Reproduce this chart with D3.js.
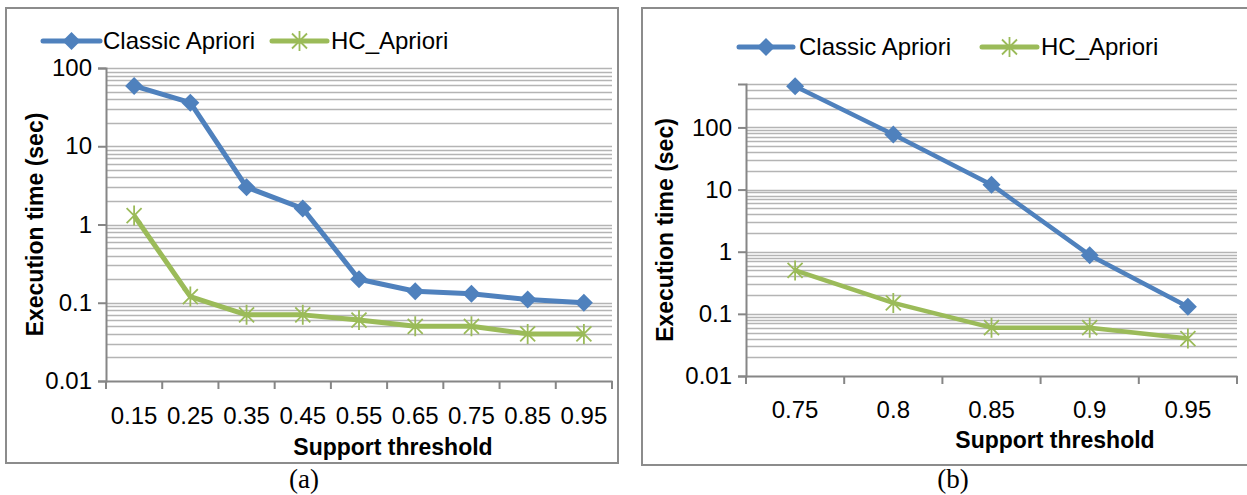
<!DOCTYPE html>
<html><head><meta charset="utf-8">
<script src="https://cdn.jsdelivr.net/npm/d3@7"></script>
<style>body{margin:0;background:#fff}svg{display:block}text{font-family:"Liberation Sans",Arial,sans-serif;fill:#000}</style>
</head><body>
<svg id="c" width="1247" height="495"></svg>
<script>
const seriesNames = ["Classic Apriori", "HC_Apriori"];
const categoriesA = ["0.15","0.25","0.35","0.45","0.55","0.65","0.75","0.85","0.95"];
const classicA = [59, 36, 3, 1.6, 0.2, 0.14, 0.13, 0.11, 0.1];
const hcA = [1.3, 0.12, 0.07, 0.07, 0.06, 0.05, 0.05, 0.04, 0.04];
const categoriesB = ["0.75","0.8","0.85","0.9","0.95"];
const classicB = [460, 77, 12, 0.88, 0.13];
const hcB = [0.5, 0.15, 0.06, 0.06, 0.04];
const yTickValues = [0.01, 0.1, 1, 10, 100];
const yTickLabels = ["0.01","0.1","1","10","100"];
const yTitle = "Execution time (sec)";
const xTitle = "Support threshold";
const captions = ["(a)", "(b)"];

const BLUE = "#4f81bd", GREEN = "#9bbb59", GRID = "#b4b4b4", AXIS = "#868686";
const svg = d3.select("#c");

const panels = [
  {border:[6,8,612,455], left:106, right:612, top:68, bottom:381, ymax:100,
   cats:categoriesA, classic:classicA, hc:hcA, yTitleX:35, xTitleX:393, xTitleY:455, xLabY:416,
   leg:{l1:[43,100], t1:103, l2:[272,327], t2:331, y:41}, cap:[304,488], lw:5},
  {border:[642,8,640,457], left:746, right:1237, top:84, bottom:376, ymax:500,
   cats:categoriesB, classic:classicB, hc:hcB, yTitleX:665, xTitleX:1055, xTitleY:448, xLabY:410,
   leg:{l1:[739,793], t1:799, l2:[982,1037], t2:1041, y:47}, cap:[953,488], lw:4.5}
];

function diamond(g, x, y, c){
  const r = 9;
  g.append("path").attr("d", `M${x},${y-r}L${x+r},${y}L${x},${y+r}L${x-r},${y}Z`).attr("fill", c);
}
function star(g, x, y, c){
  const r = 10, d = 7.5;
  g.append("path").attr("d",
    `M${x},${y-r}L${x},${y+r}M${x-d},${y-d}L${x+d},${y+d}M${x-d},${y+d}L${x+d},${y-d}`)
    .attr("stroke", c).attr("stroke-width", 1.8).attr("fill","none");
}

panels.forEach((p, pi) => {
  const g = svg.append("g");
  g.append("rect").attr("x", p.border[0]).attr("y", p.border[1]).attr("width", p.border[2]).attr("height", p.border[3])
    .attr("fill","none").attr("stroke","#8c8c8c").attr("stroke-width",2);

  const x = d3.scaleBand().domain(p.cats).range([p.left, p.right]);
  const y = d3.scaleLog().domain([0.01, p.ymax]).range([p.bottom, p.top]);

  const gridVals = [];
  for (let e = -2; e <= 2; e++) for (let k = 1; k <= 9; k++) {
    const v = k * Math.pow(10, e);
    if (v > 0.0100001 && v <= p.ymax * 1.0001) gridVals.push(v);
  }
  g.selectAll(null).data(gridVals).enter().append("line")
    .attr("x1", p.left).attr("x2", p.right)
    .attr("y1", d => Math.round(y(d)) + 0.5).attr("y2", d => Math.round(y(d)) + 0.5)
    .attr("stroke", GRID).attr("stroke-width", 1.6);

  const yAxis = d3.axisLeft(y).tickValues(yTickValues).tickFormat((d,i) => yTickLabels[i]).tickSize(8).tickPadding(6);
  const ya = g.append("g").attr("transform", `translate(${p.left},0)`).call(yAxis);
  ya.select(".domain").attr("stroke", AXIS).attr("stroke-width", 2);
  ya.selectAll(".tick line").attr("stroke", AXIS).attr("stroke-width", 2);
  ya.selectAll(".tick text").style("font-size","24px").style("font-family","'Liberation Sans',Arial,sans-serif");

  const xAxis = d3.axisBottom(x).tickSize(0).tickPadding(0);
  const xa = g.append("g").attr("transform", `translate(0,${p.bottom})`).call(xAxis);
  xa.select(".domain").attr("stroke", AXIS).attr("stroke-width", 2);
  xa.selectAll(".tick text").attr("y", p.xLabY - p.bottom).attr("dy","0.35em").style("font-size","24px").style("font-family","'Liberation Sans',Arial,sans-serif");
  const bounds = p.cats.map(c => x(c)).concat([p.right]);
  g.selectAll(null).data(bounds).enter().append("line")
    .attr("x1", d => d).attr("x2", d => d).attr("y1", p.bottom).attr("y2", p.bottom + 8)
    .attr("stroke", AXIS).attr("stroke-width", 2);

  g.append("text").attr("transform", `translate(${p.yTitleX},${(p.top+p.bottom)/2}) rotate(-90)`)
    .attr("text-anchor","middle").attr("dy","0.35em").style("font-size","23px").style("font-weight","bold").text(yTitle);
  g.append("text").attr("x", p.xTitleX).attr("y", p.xTitleY).attr("text-anchor","middle")
    .style("font-size","23px").style("font-weight","bold").text(xTitle);

  const line = d3.line().x((d,i) => x(p.cats[i]) + x.bandwidth()/2).y(d => y(d));
  g.append("path").datum(p.classic).attr("d", line).attr("fill","none").attr("stroke", BLUE)
    .attr("stroke-width", p.lw).attr("stroke-linejoin","round");
  g.append("path").datum(p.hc).attr("d", line).attr("fill","none").attr("stroke", GREEN)
    .attr("stroke-width", p.lw).attr("stroke-linejoin","round");
  p.classic.forEach((v,i) => diamond(g, x(p.cats[i]) + x.bandwidth()/2, y(v), BLUE));
  p.hc.forEach((v,i) => star(g, x(p.cats[i]) + x.bandwidth()/2, y(v), GREEN));

  const L = p.leg;
  g.append("line").attr("x1", L.l1[0]).attr("x2", L.l1[1]).attr("y1", L.y).attr("y2", L.y)
    .attr("stroke", BLUE).attr("stroke-width", 5).attr("stroke-linecap","round");
  diamond(g, (L.l1[0]+L.l1[1])/2, L.y, BLUE);
  g.append("text").attr("x", L.t1).attr("y", L.y).attr("dy","0.35em").style("font-size","24px").text(seriesNames[0]);
  g.append("line").attr("x1", L.l2[0]).attr("x2", L.l2[1]).attr("y1", L.y).attr("y2", L.y)
    .attr("stroke", GREEN).attr("stroke-width", 5).attr("stroke-linecap","round");
  star(g, (L.l2[0]+L.l2[1])/2, L.y, GREEN);
  g.append("text").attr("x", L.t2).attr("y", L.y).attr("dy","0.35em").style("font-size","24px").text(seriesNames[1]);

  svg.append("text").attr("x", p.cap[0]).attr("y", p.cap[1]).attr("text-anchor","middle")
    .style("font-family","'Liberation Serif','Times New Roman',serif").style("font-size","27px").text(captions[pi]);
});
</script>
</body></html>
